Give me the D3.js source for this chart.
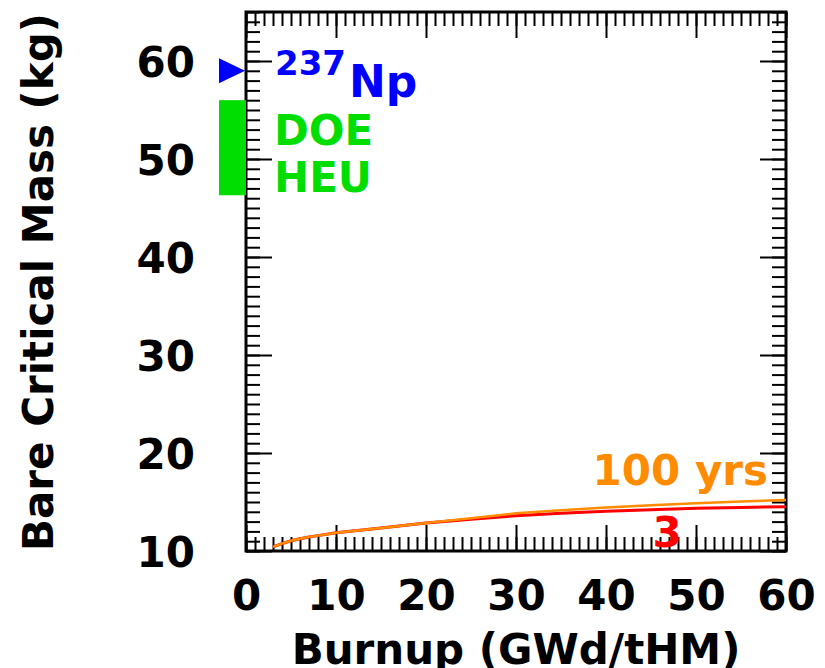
<!DOCTYPE html>
<html>
<head>
<meta charset="utf-8">
<script src="https://cdn.jsdelivr.net/npm/d3@7"></script>
<style>
  html, body { margin: 0; padding: 0; background: #fff; }
  text { font-family: "DejaVu Sans", sans-serif; font-weight: bold; }
</style>
</head>
<body>
<svg id="chart" width="825" height="668"></svg>
<script>
// ---- data ----
const burnup = [3, 4, 5, 6, 7, 8, 10, 15, 20, 25, 30, 35, 40, 45, 50, 55, 60];
const mass3yrs = [10.42, 10.75, 11.05, 11.25, 11.42, 11.57, 11.87, 12.35, 12.85, 13.25, 13.6, 13.85, 14.05, 14.2, 14.35, 14.45, 14.52];
const mass100yrs = [10.42, 10.75, 11.05, 11.25, 11.42, 11.57, 11.87, 12.35, 12.85, 13.35, 13.85, 14.15, 14.45, 14.68, 14.88, 15.05, 15.2];
const np237Mass = 59.0;
const heuRange = [46.3, 56.0];
const xTicks = [0, 10, 20, 30, 40, 50, 60];
const yTicks = [10, 20, 30, 40, 50, 60];
const xDomain = [0, 60];
const yDomain = [10, 65];

// ---- layout ----
const svg = d3.select("#chart");
const L = 246, R = 786, T = 12, B = 551;
const x = d3.scaleLinear().domain(xDomain).range([L, R]);
const y = d3.scaleLinear().domain(yDomain).range([B, T]);
const FS = 42;

const xMinor = d3.range(xDomain[0], xDomain[1] + 0.001, 1);
const yMinor = d3.range(yDomain[0], yDomain[1] + 0.001, 1);

function styleAxis(g) {
  g.select(".domain").remove();
  g.selectAll(".tick line").attr("stroke", "#000").attr("stroke-width", 2);
  g.selectAll("text").attr("fill", "#000").style("font-size", FS + "px")
    .style("font-family", '"DejaVu Sans", sans-serif').style("font-weight", "bold");
}

// minor ticks (all four sides, inward)
svg.append("g").attr("transform", `translate(0,${B})`)
  .call(d3.axisBottom(x).tickValues(xMinor).tickSize(-14).tickFormat("")).call(styleAxis);
svg.append("g").attr("transform", `translate(0,${T})`)
  .call(d3.axisTop(x).tickValues(xMinor).tickSize(-14).tickFormat("")).call(styleAxis);
svg.append("g").attr("transform", `translate(${L},0)`)
  .call(d3.axisLeft(y).tickValues(yMinor).tickSize(-14).tickFormat("")).call(styleAxis);
svg.append("g").attr("transform", `translate(${R},0)`)
  .call(d3.axisRight(y).tickValues(yMinor).tickSize(-14).tickFormat("")).call(styleAxis);

// major ticks
svg.append("g").attr("transform", `translate(0,${B})`)
  .call(d3.axisBottom(x).tickValues(xTicks).tickSizeInner(-26).tickSizeOuter(0).tickPadding(29).tickFormat(d3.format("d")))
  .call(styleAxis);
svg.append("g").attr("transform", `translate(0,${T})`)
  .call(d3.axisTop(x).tickValues(xTicks).tickSize(-26).tickFormat("")).call(styleAxis);
const gyl = svg.append("g").attr("transform", `translate(${L},0)`)
  .call(d3.axisLeft(y).tickValues(yTicks).tickSizeInner(-26).tickSizeOuter(0).tickPadding(51).tickFormat(d3.format("d")))
  .call(styleAxis);
gyl.selectAll("text").attr("dy", "0.36em");
svg.append("g").attr("transform", `translate(${R},0)`)
  .call(d3.axisRight(y).tickValues(yTicks).tickSize(-26).tickFormat("")).call(styleAxis);

// frame
svg.append("rect").attr("x", L).attr("y", T).attr("width", R - L).attr("height", B - T)
  .attr("fill", "none").attr("stroke", "#000").attr("stroke-width", 3);

// lines
const line = d3.line().x(d => x(d[0])).y(d => y(d[1]));
svg.append("path").datum(burnup.map((b, i) => [b, mass3yrs[i]]))
  .attr("d", line).attr("fill", "none").attr("stroke", "#ff0000").attr("stroke-width", 3);
svg.append("path").datum(burnup.map((b, i) => [b, mass100yrs[i]]))
  .attr("d", line).attr("fill", "none").attr("stroke", "#ff8c00").attr("stroke-width", 2.5);

// HEU bar (outside left of axis)
svg.append("rect").attr("x", L - 27).attr("width", 27)
  .attr("y", y(heuRange[1])).attr("height", y(heuRange[0]) - y(heuRange[1]))
  .attr("fill", "#00dd00");

// Np-237 triangle marker
const ty = y(np237Mass);
svg.append("path").attr("d", `M${L - 27},${ty - 12.5} L${L - 1},${ty} L${L - 27},${ty + 12.5} Z`)
  .attr("fill", "#0000ff");

// annotations
const np = svg.append("text").attr("x", 275).attr("y", 97).attr("fill", "#0000ff").style("font-size", FS + "px");
np.append("tspan").text("237").style("font-size", "34px").attr("dy", -22);
np.append("tspan").text("Np").attr("dx", 3).attr("dy", 22).style("font-size", "44px");
svg.append("text").attr("x", 274).attr("y", 145).attr("fill", "#00dd00").style("font-size", FS + "px").text("DOE");
svg.append("text").attr("x", 274).attr("y", 192).attr("fill", "#00dd00").style("font-size", FS + "px").text("HEU");
svg.append("text").attr("x", 768).attr("y", 485).attr("text-anchor", "end").attr("fill", "#ff8c00").style("font-size", FS + "px").text("100 yrs");
svg.append("text").attr("x", 667).attr("y", 547).attr("text-anchor", "middle").attr("fill", "#ff0000").style("font-size", FS + "px").text("3");

// axis titles
svg.append("text").attr("x", 516).attr("y", 664).attr("text-anchor", "middle")
  .attr("fill", "#000").style("font-size", FS + "px").text("Burnup (GWd/tHM)");
svg.append("text").attr("transform", `translate(53,282) rotate(-90)`).attr("text-anchor", "middle")
  .attr("fill", "#000").style("font-size", FS + "px").text("Bare Critical Mass (kg)");
</script>
</body>
</html>
